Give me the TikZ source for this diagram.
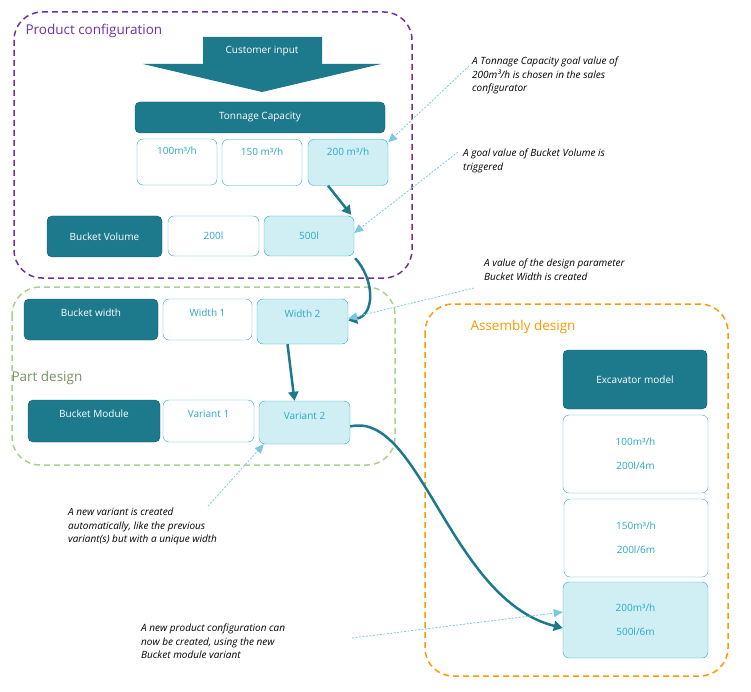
\documentclass[tikz,border=0pt]{standalone}
\usepackage{fontspec}
\setmainfont{Open Sans}
\usetikzlibrary{arrows.meta}
\definecolor{teal}{HTML}{1D7A8C}
\definecolor{lb}{HTML}{2AA8C4}
\definecolor{lfill}{HTML}{D0EFF5}
\definecolor{purp}{HTML}{7030A0}
\definecolor{grn}{HTML}{A9D18E}
\definecolor{org}{HTML}{FF9900}
\definecolor{ann}{HTML}{7CC8E0}
\tikzset{
 dk/.style={draw=teal!70!black,fill=teal,rounded corners=5pt,text=white,font=\fontsize{10}{12}\selectfont,inner sep=0},
 wb/.style={draw=lb,fill=white,rounded corners=6pt,text=lb,font=\fontsize{10}{12}\selectfont,inner sep=0},
 hl/.style={wb,fill=lfill},
 grp/.style={dashed,line width=1.5pt,rounded corners=28pt,dash pattern=on 6pt off 4pt},
 ttl/.style={anchor=west,font=\fontsize{13.5}{16}\selectfont},
 note/.style={anchor=north west,align=left,font=\itshape\fontsize{10}{13.5}\selectfont,inner sep=0},
 big/.style={draw=teal,line width=2.5pt,-{Triangle[length=9pt,width=10pt]}},
 an/.style={draw=ann,dashed,dash pattern=on 2pt off 1.5pt,line width=0.8pt,-{Triangle[length=9pt,width=8pt]}}
}
\newcommand{\bx}[4]{\path (#1) rectangle (#2); }
\begin{document}
\begin{tikzpicture}[x=1pt,y=-1pt]
\useasboundingbox (0,0) rectangle (751,692);
% groups
\draw[grp,purp] (14,12) rectangle (412,278);
\node[ttl,text=purp] (t1) at (22,31) {Product configuration};
\draw[grp,grn] (12,287) rectangle (395,465);
\node[ttl,text=grn!70!black] (t2) at (8,378) {Part design};
\draw[grp,org] (425,304) rectangle (728,676);
\node[ttl,text=org] (t3) at (467,327) {Assembly design};
% customer input arrow
\fill[teal] (203,37) -- (322,37) -- (322,64) -- (381,64) -- (262,92) -- (143,64) -- (203,64) -- cycle;
\node[text=white,font=\fontsize{10}{12}\selectfont] (ci) at (262,51) {Customer input};
% tonnage
\node[dk,minimum width=250pt,minimum height=31pt] (tc) at (260,117.5) {Tonnage Capacity};
\node[wb,minimum width=80pt,minimum height=46pt,text depth=22pt] (c1) at (177,162) {100m³/h};
\node[wb,minimum width=80pt,minimum height=46pt,text depth=22pt] (c2) at (262,162.5) {150 m³/h};
\node[hl,minimum width=80pt,minimum height=46pt,text depth=22pt] (c3) at (348,162.5) {200 m³/h};
% bucket volume
\node[dk,minimum width=115pt,minimum height=41pt] (bv) at (104.5,236.5) {Bucket Volume};
\node[wb,minimum width=91pt,minimum height=40pt] (v1) at (213.5,236) {200l};
\node[hl,minimum width=90pt,minimum height=40pt] (v2) at (309,236) {500l};
% bucket width
\node[dk,minimum width=134pt,minimum height=41pt,text depth=14pt] (bw) at (91,319.5) {Bucket width};
\node[wb,minimum width=89pt,minimum height=41pt,text depth=14pt] (w1) at (207.5,319.5) {Width 1};
\node[hl,minimum width=91pt,minimum height=45pt,text depth=16pt] (w2) at (302.5,321.5) {Width 2};
% bucket module
\node[dk,minimum width=132pt,minimum height=42pt,text depth=14pt] (bm) at (94,421) {Bucket Module};
\node[wb,minimum width=91pt,minimum height=42pt,text depth=14pt] (m1) at (208.5,421) {Variant 1};
\node[hl,minimum width=91pt,minimum height=43pt,text depth=14pt] (m2) at (304.5,422.5) {Variant 2};
% assembly
\node[dk,minimum width=144pt,minimum height=59pt] (ex) at (635,379.5) {Excavator model};
\node[wb,minimum width=145pt,minimum height=78pt,align=center] (a1) at (635.5,454) {100m³/h\\[12pt]200l/4m};
\node[wb,minimum width=144pt,minimum height=78pt,align=center] (a2) at (636,538) {150m³/h\\[12pt]200l/6m};
\node[hl,minimum width=145pt,minimum height=76pt,align=center] (a3) at (635.5,620) {200m³/h\\[12pt]500l/6m};
% thick arrows
\draw[big] ([xshift=-20pt]c3.south) -- ([xshift=-3pt,yshift=1pt]v2.north east);
\draw[big] ([xshift=1pt,yshift=-2pt]v2.south east) .. controls (375,280) and (375,315) .. ([yshift=1pt]w2.east);
\draw[big] ([xshift=-15pt]w2.south) -- ([xshift=-10pt]m2.north);
\draw[big] ([yshift=-4pt]m2.east) .. controls (420,410) and (450,600) .. ([yshift=-8pt]a3.west);
% annotations
\node[note] (n1) at (472,57) {A Tonnage Capacity goal value of\\200m³/h is chosen in the sales\\configurator};
\node[note] (n2) at (463,149) {A goal value of Bucket Volume is\\triggered};
\node[note] (n3) at (484,259) {A value of the design parameter\\Bucket Width is created};
\node[note] (n4) at (68,508) {A new variant is created\\automatically, like the previous\\variant(s) but with a unique width};
\node[note] (n5) at (141,624) {A new product configuration can\\now be created, using the new\\Bucket module variant};
\coordinate (p1) at (469,66); \coordinate (p2) at (458,152);
\coordinate (p3) at (474,288); \coordinate (p4) at (208,506); \coordinate (p5) at (352,638);
\draw[an] (p1) -- ([yshift=-3pt]c3.north east);
\draw[an] (p2) -- ([yshift=3pt]v2.east);
\draw[an] (p3) -- ([yshift=3pt]w2.east);
\draw[an] (p4) -- ([xshift=5pt]m2.south west);
\draw[an] (p5) -- ([yshift=8pt]a3.west);
\end{tikzpicture}
\end{document}
